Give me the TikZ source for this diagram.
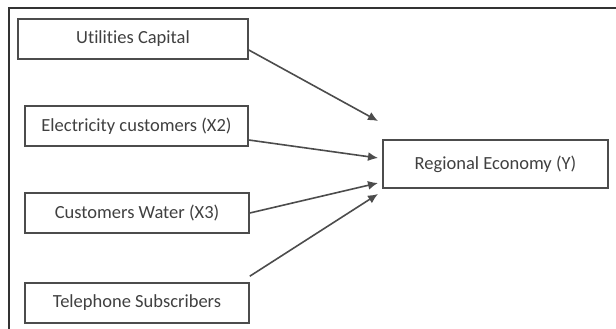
\documentclass[tikz,border=0pt]{standalone}
\usepackage{fontspec}
\setmainfont{Carlito}[Ligatures=NoCommon]
\usetikzlibrary{arrows.meta}
\begin{document}
\begin{tikzpicture}
    [%%%%%%%%%%%%%%%%%%%%%%%%%%%%%%
        x=1pt, y=-1pt,
        box/.style={rectangle,draw=black!70,line width=1.6pt,inner sep=0pt,
            minimum height=40pt,text=black!75,font=\fontsize{18.5}{20}\selectfont},
        arr/.style={draw=black!70,line width=1.6pt,-{Latex[length=10pt,width=9pt]}},
    ]%%%%%%%%%%%%%%%%%%%%%%%%%%%%%%
\useasboundingbox (0,0) rectangle (616,329);
\draw[black!80,line width=1.3pt] (9,329) -- (9,8) -- (616,8);
\node[box, minimum width=230pt] (util) at (133,39) {Utilities Capital};
\node[box, minimum width=223pt] (elec) at (136.5,126) {Electricity customers (X2)};
\node[box, minimum width=224pt] (water) at (137,213) {Customers Water (X3)};
\node[box, minimum width=224pt] (tel) at (137,303) {Telephone Subscribers};
\node[box, minimum width=225pt, minimum height=48pt] (reg) at (495.5,164) {Regional Economy (Y)};
\coordinate (in1) at (378,121);
\coordinate (in2) at (378,158);
\coordinate (in3) at (378,183);
\coordinate (in4) at (378,194);
\draw[arr] ([yshift=-11pt]util.east) -- (in1);
\draw[arr] ([yshift=-14pt]elec.east) -- (in2);
\draw[arr] (water.east) -- (in3);
\draw[arr] ([yshift=6pt]tel.north east) -- (in4);
\end{tikzpicture}
\end{document}
